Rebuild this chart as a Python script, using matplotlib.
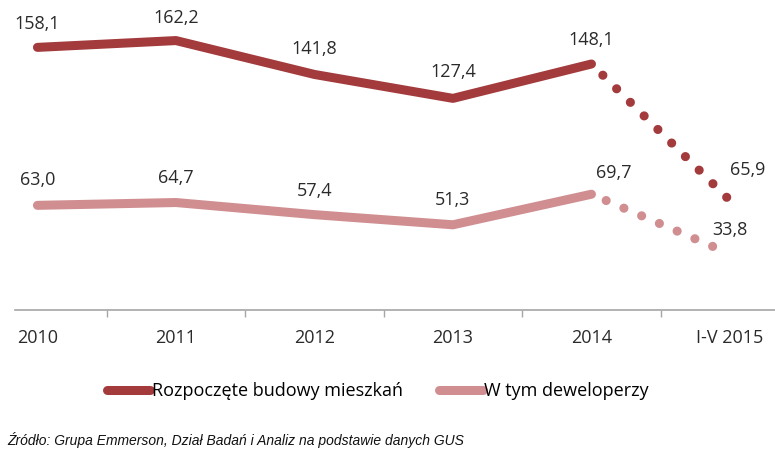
import matplotlib
matplotlib.use("Agg")
import matplotlib.pyplot as plt
from matplotlib import font_manager
from matplotlib.lines import Line2D

categories = ["2010", "2011", "2012", "2013", "2014", "I-V 2015"]
rozpoczete = [158.1, 162.2, 141.8, 127.4, 148.1, 65.9]
deweloperzy = [63.0, 64.7, 57.4, 51.3, 69.7, 33.8]
series_names = ["Rozpoczęte budowy mieszkań", "W tym deweloperzy"]
source_text = "Źródło: Grupa Emmerson, Dział Badań i Analiz na podstawie danych GUS"

DARK = "#A33A3C"
PINK = "#D08E91"
FONT = "Open Sans"

names = {f.name for f in font_manager.fontManager.ttflist}
src_font = "Liberation Sans Narrow" if "Liberation Sans Narrow" in names else "Liberation Sans"

plt.rcParams["lines.scale_dashes"] = False

W, H = 775, 461
fig = plt.figure(figsize=(W / 100, H / 100), dpi=100)
fig.patch.set_facecolor("white")

x_left_px, y_zero_px, y_top_px = 15, 310, 11
ax = fig.add_axes([x_left_px / W, (H - y_zero_px) / H, 1 - x_left_px / W, (y_zero_px - y_top_px) / H])
ax.set_facecolor("none")

x = list(range(len(categories)))
ax.set_xlim(-0.162, 5.325)
ax.set_ylim(0, 180)

solid_lw = 6.5
dot_lw = 6.6
dot_style = (2.4, (0.01, 13.9))

for vals, col in [(deweloperzy, PINK), (rozpoczete, DARK)]:
    ax.plot(x[:5], vals[:5], color=col, lw=solid_lw, solid_capstyle="round",
            solid_joinstyle="round", zorder=3)
    ax.plot(x[4:], vals[4:], color=col, lw=dot_lw, linestyle=dot_style,
            dash_capstyle="round", zorder=3)

up_offsets = [(0, 23), (0, 23), (0, 25), (0, 26), (0, 24), (18, 31)]
lo_offsets = [(0, 25), (0, 25), (0, 24), (0, 25), (22, 21), (0, 24)]
for vals, offs in [(rozpoczete, up_offsets), (deweloperzy, lo_offsets)]:
    for xi, v, off in zip(x, vals, offs):
        ax.annotate(f"{v:.1f}".replace(".", ","), (xi, v), xytext=off,
                    textcoords="offset pixels", ha="center", va="center",
                    fontsize=13, family=FONT, color="#2a2a2a")

for s in ["top", "right", "left"]:
    ax.spines[s].set_visible(False)
ax.spines["bottom"].set_color("#A6A6A6")
ax.spines["bottom"].set_linewidth(1.2)
ax.set_yticks([])
ax.set_xticks([i + 0.5 for i in range(5)])
ax.set_xticks(x, minor=True)
ax.set_xticklabels([])
ax.set_xticklabels(categories, minor=True, fontsize=13, family=FONT, color="#2a2a2a")
ax.tick_params(axis="x", which="major", length=5, width=1, color="#A6A6A6", direction="out")
ax.tick_params(axis="x", which="minor", length=0, pad=14)

handles = [Line2D([], [], color=DARK, lw=solid_lw, solid_capstyle="round"),
           Line2D([], [], color=PINK, lw=solid_lw, solid_capstyle="round")]
fig.legend(handles, series_names, loc="center", bbox_to_anchor=(378 / W, 1 - 391 / H),
           ncol=2, frameon=False, handlelength=2.4, handletextpad=0.1, columnspacing=2.0,
           prop={"family": FONT, "size": 13})

fig.text(7 / W, 1 - 440 / H, source_text, ha="left", va="center", fontsize=10,
         style="italic", family=src_font, color="#111111")

fig.savefig("out.png", dpi=100, facecolor="white")
